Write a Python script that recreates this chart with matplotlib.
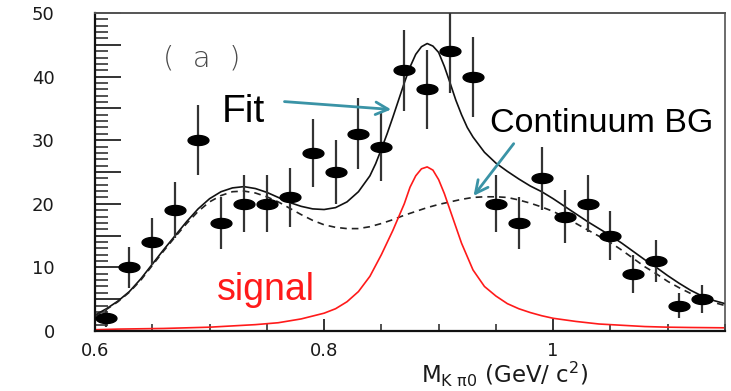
#!/usr/bin/env python3
import numpy as np
import matplotlib
matplotlib.use("Agg")
import matplotlib.pyplot as plt
from matplotlib.path import Path
from matplotlib.ticker import MultipleLocator, FuncFormatter

mass = [0.61, 0.63, 0.65, 0.67, 0.69, 0.71, 0.73, 0.75, 0.77, 0.79, 0.81, 0.83, 0.85, 0.87,
        0.89, 0.91, 0.93, 0.95, 0.97, 0.99, 1.01, 1.03, 1.05, 1.07, 1.09, 1.11, 1.13]
counts = [2, 10, 14, 19, 30, 17, 20, 20, 21, 28, 25, 31, 29, 41,
          38, 44, 40, 20, 17, 24, 18, 20, 15, 9, 11, 4, 5]
errors = [1.4, 3.2, 3.7, 4.4, 5.5, 4.1, 4.5, 4.5, 4.6, 5.3, 5.0, 5.6, 5.4, 6.4,
          6.2, 6.6, 6.3, 4.5, 4.1, 4.9, 4.2, 4.5, 3.9, 3.0, 3.3, 2.0, 2.2]

# curves
fit_x = [0.60, 0.61, 0.62, 0.63, 0.64, 0.65, 0.66, 0.67, 0.68, 0.69, 0.70, 0.71, 0.72, 0.73,
         0.74, 0.75, 0.76, 0.77, 0.78, 0.79, 0.80, 0.81, 0.82, 0.83, 0.84, 0.845, 0.85, 0.855,
         0.86, 0.865, 0.87, 0.875, 0.88, 0.885, 0.89, 0.895, 0.90, 0.905, 0.91, 0.915, 0.92,
         0.925, 0.93, 0.94, 0.95, 0.96, 0.97, 0.98, 0.99, 1.00, 1.01, 1.02, 1.03, 1.04, 1.05,
         1.06, 1.07, 1.08, 1.09, 1.10, 1.11, 1.12, 1.13, 1.14, 1.15]
fit = [2.5, 3.5, 4.7, 6.2, 8.2, 10.5, 12.8, 15.0, 17.2, 19.2, 20.8, 21.9, 22.5, 22.7,
       22.4, 21.8, 21.0, 20.2, 19.6, 19.2, 19.1, 19.4, 20.3, 21.9, 24.4, 26.3, 28.6, 31.0,
       33.6, 36.3, 39.0, 41.5, 43.5, 44.7, 45.2, 44.8, 43.8, 41.6, 39.0, 36.3, 34.0,
       32.0, 30.5, 28.1, 26.4, 25.1, 23.9, 22.8, 21.9, 20.8, 19.6, 18.4, 17.2, 16.1, 15.0,
       13.8, 12.5, 11.2, 10.0, 8.7, 7.5, 6.4, 5.5, 4.8, 4.3]
bg_x = [0.60, 0.61, 0.62, 0.63, 0.64, 0.65, 0.66, 0.67, 0.68, 0.69, 0.70, 0.71, 0.72, 0.73,
        0.74, 0.75, 0.76, 0.77, 0.78, 0.79, 0.80, 0.81, 0.82, 0.83, 0.84, 0.85, 0.86, 0.87,
        0.88, 0.89, 0.90, 0.91, 0.92, 0.93, 0.94, 0.95, 0.96, 0.97, 0.98, 0.99, 1.00, 1.01,
        1.02, 1.03, 1.04, 1.05, 1.06, 1.07, 1.08, 1.09, 1.10, 1.11, 1.12, 1.13, 1.14, 1.15]
background = [2.4, 3.4, 4.6, 6.1, 8.0, 10.3, 12.6, 14.8, 16.9, 18.8, 20.3, 21.3, 21.9, 22.0,
              21.7, 21.1, 20.3, 19.3, 18.3, 17.4, 16.7, 16.3, 16.1, 16.1, 16.4, 16.9, 17.5, 18.2,
              18.8, 19.4, 19.9, 20.3, 20.7, 21.0, 21.1, 21.1, 21.0, 20.6, 20.1, 19.5, 18.8, 17.9,
              16.9, 15.9, 14.9, 13.9, 12.7, 11.4, 10.1, 9.0, 7.8, 6.8, 5.9, 5.1, 4.5, 4.0]
signal_x = [0.60, 0.62, 0.64, 0.66, 0.68, 0.70, 0.72, 0.74, 0.76, 0.78, 0.80, 0.81, 0.82, 0.83,
            0.84, 0.85, 0.86, 0.87, 0.875, 0.88, 0.885, 0.89, 0.895, 0.90, 0.905, 0.91, 0.92,
            0.93, 0.94, 0.95, 0.96, 0.97, 0.98, 0.99, 1.00, 1.02, 1.04, 1.06, 1.08, 1.10, 1.12, 1.15]
signal = [0.2, 0.3, 0.35, 0.4, 0.5, 0.6, 0.8, 1.0, 1.3, 1.9, 2.8, 3.5, 4.6, 6.2,
          8.6, 12.0, 15.8, 20.0, 22.6, 24.4, 25.5, 25.8, 25.3, 23.8, 21.6, 19.0, 13.8,
          9.6, 7.0, 5.5, 4.3, 3.5, 2.9, 2.4, 2.0, 1.5, 1.1, 0.9, 0.7, 0.6, 0.55, 0.5]

y_ticks = [0, 10, 20, 30, 40, 50]
x_ticks = [0.6, 0.8, 1.0]

teal = "#3a93a6"
narrow = ["Liberation Sans Narrow", "Liberation Sans", "DejaVu Sans"]

fig = plt.figure(figsize=(7.31, 3.91), dpi=100)
ax = fig.add_axes([95 / 731, 60 / 391, 630 / 731, 318 / 391])

# flattened ellipse used as the data marker
t = np.linspace(0, 2 * np.pi, 60)
ellipse = Path(np.column_stack([np.cos(t), 0.48 * np.sin(t)]), closed=True)

ax.errorbar(mass, counts, yerr=errors, fmt="none", ecolor="#333333", elinewidth=1.6,
            capsize=0, zorder=3)
ax.plot(fit_x, fit, color="#111111", lw=1.2, zorder=2)
ax.plot(bg_x, background, color="#222222", lw=1.2, ls=(0, (4, 3)), zorder=2)
ax.plot(signal_x, signal, color="#ff1a1a", lw=1.2, zorder=2)
ax.plot(mass, counts, ls="none", marker=ellipse, ms=15, color="black", zorder=4)

ax.set_xlim(0.6, 1.15)
ax.set_ylim(0, 50)

ax.set_xticks(x_ticks)
ax.set_xticklabels(["0.6", "0.8", "1"])
ax.xaxis.set_minor_locator(MultipleLocator(0.05))
ax.yaxis.set_major_locator(MultipleLocator(5))
ax.yaxis.set_minor_locator(MultipleLocator(1))
ax.yaxis.set_major_formatter(FuncFormatter(lambda v, p: "%d" % v if int(round(v)) in y_ticks else ""))

ax.tick_params(axis="y", which="major", direction="in", length=19, width=1.4,
               color="#333333", pad=29, labelsize=13, labelcolor="#1a1a1a")
ax.tick_params(axis="y", which="minor", direction="in", length=9, width=1.2, color="#333333")
ax.tick_params(axis="x", which="major", direction="in", length=9, width=1.4,
               color="#333333", pad=8, labelsize=13, labelcolor="#1a1a1a")
ax.tick_params(axis="x", which="minor", direction="in", length=5, width=1.2, color="#333333")

for side in ["left", "bottom"]:
    ax.spines[side].set_linewidth(1.6)
    ax.spines[side].set_color("#111111")
ax.spines["top"].set_linewidth(1.4)
ax.spines["top"].set_color("#555555")
ax.spines["right"].set_linewidth(1.1)
ax.spines["right"].set_color("#444444")

# annotations
ax.text(0.6935, 42.8, "(  a  )", family="DejaVu Sans", fontweight="light", fontsize=21,
        color="#4a4a4a", ha="center", va="center")
ax.text(0.711, 32.9, "Fit", family=narrow, fontsize=28, color="black", va="baseline")
ax.text(0.945, 31.3, "Continuum BG", family=narrow, fontsize=24.5, color="black", va="baseline")
ax.text(0.7066, 4.9, "signal", family=narrow, fontsize=27, color="#ff1a1a", va="baseline")

ax.annotate("", xy=(0.861, 34.8), xytext=(0.763, 36.1),
            arrowprops=dict(arrowstyle="->,head_length=0.9,head_width=0.45", color=teal, lw=2))
ax.annotate("", xy=(0.929, 20.9), xytext=(0.967, 29.8),
            arrowprops=dict(arrowstyle="->,head_length=0.9,head_width=0.45", color=teal, lw=2))

fig.text(505 / 731, 8 / 391, r"M$_{\mathrm{K\ \pi 0}}$ (GeV/ c$^{2}$)", fontsize=16.5,
         color="#1a1a1a", ha="center", va="baseline")

fig.savefig("out.png", dpi=100)
